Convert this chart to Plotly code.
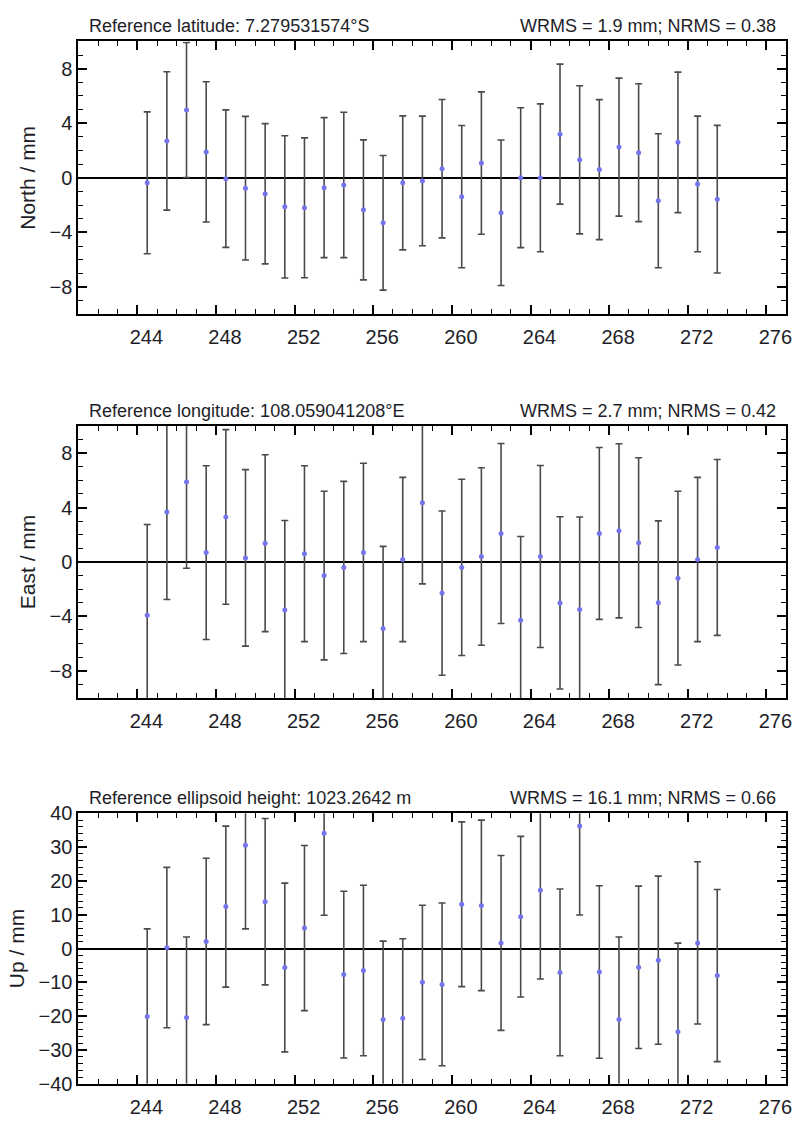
import plotly.graph_objects as go

days = [244.5, 245.5, 246.5, 247.5, 248.5, 249.5, 250.5, 251.5, 252.5, 253.5,
        254.5, 255.5, 256.5, 257.5, 258.5, 259.5, 260.5, 261.5, 262.5, 263.5,
        264.5, 265.5, 266.5, 267.5, 268.5, 269.5, 270.5, 271.5, 272.5, 273.5]

north = [-0.37, 2.7, 4.97, 1.9, -0.06, -0.76, -1.17, -2.13, -2.2, -0.72,
         -0.52, -2.35, -3.3, -0.37, -0.23, 0.67, -1.38, 1.08, -2.56, 0.01,
         0.0, 3.2, 1.32, 0.6, 2.25, 1.84, -1.68, 2.6, -0.45, -1.57]
north_err = [5.2, 5.07, 4.95, 5.14, 5.04, 5.26, 5.14, 5.21, 5.13, 5.13,
             5.33, 5.13, 4.93, 4.91, 4.75, 5.07, 5.21, 5.22, 5.33, 5.13,
             5.42, 5.13, 5.43, 5.13, 5.06, 5.05, 4.91, 5.15, 4.97, 5.41]

east = [-3.91, 3.67, 5.88, 0.69, 3.31, 0.3, 1.38, -3.53, 0.61, -1.0,
        -0.4, 0.7, -4.89, 0.18, 4.36, -2.29, -0.4, 0.4, 2.09, -4.29,
        0.4, -3.01, -3.5, 2.1, 2.29, 1.42, -3.0, -1.19, 0.18, 1.07]
east_err = [6.67, 6.43, 6.34, 6.39, 6.42, 6.49, 6.5, 6.58, 6.47, 6.2,
            6.33, 6.56, 6.04, 6.04, 5.97, 6.04, 6.48, 6.53, 6.62, 6.16,
            6.69, 6.33, 6.81, 6.32, 6.4, 6.24, 6.02, 6.39, 6.04, 6.47]

up = [-20.1, 0.3, -20.4, 2.1, 12.4, 30.5, 13.85, -5.6, 6.05, 34.1,
      -7.7, -6.5, -21.0, -20.6, -10.0, -10.6, 13.1, 12.75, 1.65, 9.4,
      17.2, -7.05, 36.2, -6.93, -21.0, -5.55, -3.45, -24.6, 1.67, -8.0]
up_err = [25.9, 23.7, 23.8, 24.6, 23.8, 24.7, 24.6, 24.95, 24.4, 24.24,
          24.65, 25.2, 23.2, 23.5, 22.8, 24.05, 24.35, 25.2, 25.85, 23.75,
          26.2, 24.65, 26.3, 25.5, 24.4, 24.0, 24.85, 26.2, 24.0, 25.45]

left_titles = ["Reference latitude: 7.279531574°S",
               "Reference longitude: 108.059041208°E",
               "Reference ellipsoid height: 1023.2642 m"]
right_titles = ["WRMS = 1.9 mm; NRMS = 0.38",
                "WRMS = 2.7 mm; NRMS = 0.42",
                "WRMS = 16.1 mm; NRMS = 0.66"]
y_titles = ["North / mm", "East / mm", "Up / mm"]
y_ranges = [[-10, 10], [-10, 10], [-40, 40]]
y_dticks = [4, 4, 10]
y_minor = [1, 1, 2]
x_range = [241, 277]

W, H = 800, 1121
# pixel geometry of the panels (top, bottom)
panels_px = [(31, 309.3), (423.3, 700.7), (818.3, 1094.3)]
left_px, right_px = 79, 792

FONT = "Liberation Sans, Arial, sans-serif"
TXT = "#1e1e28"

fig = go.Figure()
series = [(north, north_err), (east, east_err), (up, up_err)]

for i, (vals, errs) in enumerate(series):
    xa = "x" if i == 0 else f"x{i+1}"
    ya = "y" if i == 0 else f"y{i+1}"
    fig.add_trace(go.Scatter(
        x=days, y=vals, mode="markers", xaxis=xa, yaxis=ya,
        marker=dict(color="#7474ee", size=5),
        error_y=dict(type="data", array=errs, visible=True,
                     color="#4a4a4a", thickness=1.6, width=3.5),
        showlegend=False, hoverinfo="skip", cliponaxis=True))

layout = dict(width=W, height=H, margin=dict(l=0, r=0, t=0, b=0),
              paper_bgcolor="white", plot_bgcolor="white",
              font=dict(family=FONT, color=TXT))
annotations = []
for i in range(3):
    top, bot = panels_px[i]
    xk = "xaxis" if i == 0 else f"xaxis{i+1}"
    yk = "yaxis" if i == 0 else f"yaxis{i+1}"
    layout[xk] = dict(
        domain=[left_px / W, right_px / W], range=x_range,
        anchor="y" if i == 0 else f"y{i+1}",
        tickmode="linear", tick0=244, dtick=4,
        ticks="inside", ticklen=9, tickwidth=1.5, tickcolor="black",
        minor=dict(ticks="inside", ticklen=5, dtick=1, tickwidth=1.3,
                   tickcolor="black", showgrid=False),
        showline=True, linecolor="black", linewidth=2, mirror="allticks",
        showgrid=False, zeroline=False,
        tickfont=dict(size=20, family=FONT, color=TXT),
        ticklabelshift=9, ticklabelstandoff=4)
    layout[yk] = dict(
        domain=[1 - bot / H, 1 - top / H], range=y_ranges[i],
        anchor="x" if i == 0 else f"x{i+1}",
        tickmode="linear", tick0=0, dtick=y_dticks[i],
        ticks="inside", ticklen=9, tickwidth=1.5, tickcolor="black",
        minor=dict(ticks="inside", ticklen=5, dtick=y_minor[i], tickwidth=1.3,
                   tickcolor="black", showgrid=False),
        showline=True, linecolor="black", linewidth=2, mirror="allticks",
        showgrid=False, zeroline=True, zerolinecolor="black", zerolinewidth=1.6,
        tickfont=dict(size=20, family=FONT, color=TXT),
        title=dict(text=y_titles[i], font=dict(size=21, family=FONT, color=TXT),
                   standoff=8))
    ty = 1 - (top - 15.5) / H
    annotations.append(dict(text=left_titles[i], xref="paper", yref="paper",
                            x=88 / W, y=ty, xanchor="left", yanchor="middle",
                            showarrow=False,
                            font=dict(size=18, family=FONT, color=TXT)))
    annotations.append(dict(text=right_titles[i], xref="paper", yref="paper",
                            x=784 / W, y=ty, xanchor="right", yanchor="middle",
                            showarrow=False,
                            font=dict(size=18, family=FONT, color=TXT)))
layout["annotations"] = annotations
fig.update_layout(**layout)
fig.write_html("out.html")
